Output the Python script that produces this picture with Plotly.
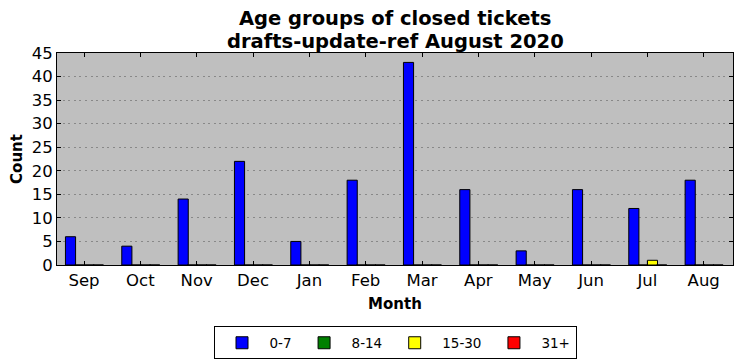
import plotly.graph_objects as go

months = ["Sep", "Oct", "Nov", "Dec", "Jan", "Feb", "Mar", "Apr", "May", "Jun", "Jul", "Aug"]
age_0_7 = [6, 4, 14, 22, 5, 18, 43, 16, 3, 16, 12, 18]
age_8_14 = [0, 0, 0, 0, 0, 0, 0, 0, 0, 0, 0, 0]
age_15_30 = [0, 0, 0, 0, 0, 0, 0, 0, 0, 0, 1, 0]
age_31_plus = [0, 0, 0, 0, 0, 0, 0, 0, 0, 0, 0, 0]

series = [("0-7", age_0_7, "#0000ff"), ("8-14", age_8_14, "#008000"),
          ("15-30", age_15_30, "#ffff00"), ("31+", age_31_plus, "#ff0000")]
bar_offsets = [-0.33, -0.165, 0.0, 0.165]
bar_width = 0.18

title_lines = ["Age groups of closed tickets", "drafts-update-ref August 2020"]

x_idx = list(range(len(months)))
fig = go.Figure()
for (name, vals, col), off in zip(series, bar_offsets):
    fig.add_trace(go.Bar(x=x_idx, y=vals, name=name, offset=off, width=bar_width,
                         marker=dict(color=col, line=dict(color="black", width=1))))

font = "DejaVu Sans"
H = 212.0
for i, line in enumerate(title_lines):
    ypix = 19 + 22 * i
    fig.add_annotation(text="<b>%s</b>" % line, xref="paper", yref="paper",
                       x=0.5, y=(265 - ypix) / H, xanchor="center", yanchor="middle",
                       showarrow=False, font=dict(size=19.5, family=font, color="black"))

# page body has an 8px margin, so the figure is 8px smaller than the window
fig.update_layout(
    width=734, height=353,
    margin=dict(l=49, r=9, t=45, b=96, autoexpand=False),
    paper_bgcolor="white", plot_bgcolor="#bfbfbf",
    barmode="overlay",
    font=dict(family=font, color="black", size=16.5),
    legend=dict(orientation="h", x=0.5, xanchor="center", y=-0.29, yanchor="top",
                bordercolor="black", borderwidth=1, font=dict(size=13.5),
                itemwidth=45, traceorder="normal"),
    showlegend=True,
)
fig.update_xaxes(
    tickmode="array", tickvals=x_idx, ticktext=months, automargin=False,
    range=[-0.48, 11.52], showgrid=False, zeroline=False,
    showline=True, linecolor="black", linewidth=1, mirror="allticks",
    ticks="inside", ticklen=4, tickcolor="black",
    title=dict(text="<b>Month</b>", font=dict(size=15), standoff=9),
)
fig.update_yaxes(
    range=[0, 45], dtick=5, showgrid=True, gridcolor="#888888", griddash="2px,3.6px", gridwidth=1,
    zeroline=False, showline=True, linecolor="black", linewidth=1, mirror="allticks",
    ticks="inside", ticklen=4, tickcolor="black", automargin=False,
    title=dict(text="<b>Count</b>", font=dict(size=15), standoff=22),
)
fig.write_html("out.html")
